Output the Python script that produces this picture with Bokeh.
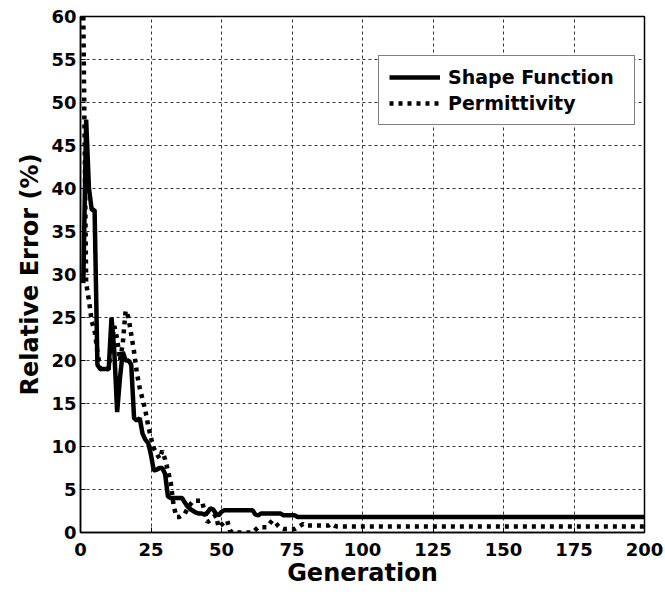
from bokeh.plotting import figure
from bokeh.models import Range1d, Legend, LegendItem, FixedTicker
from bokeh.embed import file_html
from bokeh.resources import INLINE

# ---- data ----
shape_gen = list(range(1, 52)) + [61, 62, 63, 64, 71, 72, 76, 77, 200]
shape_err = [29, 48, 40, 37.5, 37.5, 19.5, 19, 19, 19, 19,
             25, 21, 14, 18, 21, 20, 20, 19.5, 13.3, 13.0,
             13.3, 11.5, 10.8, 10.4, 9.0, 7.2, 7.3, 7.5, 7.5, 6.8,
             4.2, 4.0, 4.0, 4.0, 4.0, 4.0, 3.5, 3.0, 2.7, 2.5,
             2.3, 2.2, 2.2, 2.1, 2.3, 2.8, 2.7, 2.2, 2.0, 2.4,
             2.6, 2.6, 2.1, 2.0, 2.2, 2.2, 2.0, 2.0, 1.8, 1.8]

perm_gen = list(range(1, 55)) + [61, 62, 63, 66, 67, 68, 69, 70, 71, 72, 76,
                                 77, 78, 79, 80, 88, 89, 90, 91, 200]
perm_err = [60, 29, 27, 24.5, 23.5, 21, 19, 19, 19, 19,
            22, 24, 22.5, 20, 22, 25.8, 25, 23, 21, 18.5,
            16.8, 15.5, 14.2, 12.4, 11, 9.8, 9.2, 8.6, 9.5, 8.5,
            7.2, 5.8, 3.2, 1.8, 1.8, 2.0, 2.2, 2.8, 3.3, 3.7,
            3.7, 3.7, 3.7, 2.5, 1.2, 1.4, 1.8, 2.0, 0.6, 0.9,
            1.2, 1.4, 0.2, 0.0, 0.0, 0.3, 0.6, 0.6, 1.0, 1.4,
            1.2, 0.8, 0.5, 0.4, 0.4, 0.6, 0.8, 1.0, 0.8, 0.8,
            1.0, 0.8, 0.7, 0.7]

x_ticks = [0, 25, 50, 75, 100, 125, 150, 175, 200]
y_ticks = [0, 5, 10, 15, 20, 25, 30, 35, 40, 45, 50, 55, 60]

labels = ["Shape Function", "Permittivity"]

FONT = "DejaVu Sans"

p = figure(width=665, height=594, output_backend="svg", toolbar_location=None,
           x_range=Range1d(0, 200), y_range=Range1d(0, 60),
           min_border_left=80, min_border_right=21, min_border_top=16,
           min_border_bottom=62, background_fill_color="white",
           border_fill_color="white")

r_perm = p.line(perm_gen, perm_err, line_color="black", line_width=4.5,
                line_dash="4 5")
r_shape = p.line(shape_gen, shape_err, line_color="black", line_width=4.5)

p.xaxis.ticker = FixedTicker(ticks=x_ticks)
p.yaxis.ticker = FixedTicker(ticks=y_ticks)

for ax in (p.xaxis, p.yaxis):
    ax.axis_line_color = "black"
    ax.axis_line_width = 1.5
    ax.major_tick_line_color = "black"
    ax.major_tick_in = 5
    ax.major_tick_out = 0
    ax.minor_tick_line_color = None
    ax.major_label_text_font = FONT
    ax.major_label_text_font_style = "bold"
    ax.major_label_text_font_size = "18px"
    ax.major_label_text_color = "black"
    ax.axis_label_text_font = FONT
    ax.axis_label_text_font_style = "bold"
    ax.axis_label_text_font_size = "24px"
    ax.axis_label_text_color = "black"

p.yaxis.major_label_standoff = 4
p.yaxis.axis_label_standoff = 4
p.xaxis.major_label_standoff = 10
p.xaxis.axis_label_standoff = 0

p.xaxis.axis_label = "Generation"
p.yaxis.axis_label = "Relative Error (%)"

for g in (p.xgrid, p.ygrid):
    g.grid_line_color = "#333333"
    g.grid_line_width = 1
    g.grid_line_dash = "3 3"

p.outline_line_color = "black"
p.outline_line_width = 1.5
p.outline_line_alpha = 1

legend = Legend(items=[LegendItem(label=labels[0], renderers=[r_shape]),
                       LegendItem(label=labels[1], renderers=[r_perm])],
                location=(298, 407))
legend.label_text_font = FONT
legend.label_text_font_style = "bold"
legend.label_text_font_size = "19px"
legend.label_text_color = "black"
legend.glyph_width = 51
legend.glyph_height = 22
legend.label_height = 22
legend.label_width = 176
legend.label_standoff = 8
legend.spacing = 4
legend.padding = 10
legend.margin = 0
legend.border_line_color = "black"
legend.border_line_width = 1
legend.background_fill_color = "white"
legend.background_fill_alpha = 1
p.add_layout(legend)

open("out.html", "w").write(file_html(p, INLINE))
